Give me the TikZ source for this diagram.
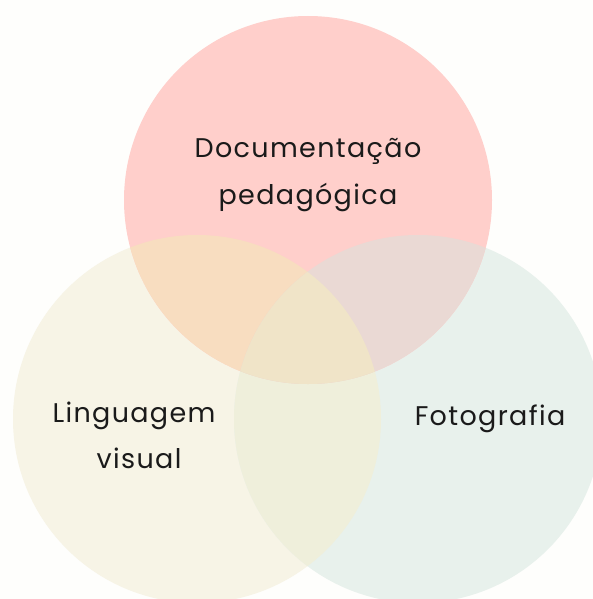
\documentclass[tikz,border=0pt]{standalone}
\usepackage{fontspec}
\setmainfont{Poppins}[LetterSpace=5]
\definecolor{bgc}{HTML}{FEFEFC}
\definecolor{redc}{HTML}{FFCFCB}
\definecolor{yelc}{HTML}{F7F4E6}
\definecolor{grnc}{HTML}{E8F1EC}
\definecolor{ryc}{HTML}{F8DDC0}
\definecolor{rgc}{HTML}{EAD9D4}
\definecolor{ygc}{HTML}{EFEFDB}
\definecolor{ryg}{HTML}{F0E4C8}
\definecolor{txtc}{HTML}{1A1A1A}
\begin{document}
\begin{tikzpicture}[x=1pt,y=-1pt,
  lbl/.style={anchor=base,text=txtc,font=\fontsize{27}{32}\selectfont,inner sep=0pt}]
\fill[bgc] (0,0) rectangle (593,599);
\useasboundingbox (0,0) rectangle (593,599);
\def\R{184}
\coordinate (cr) at (308,200);
\coordinate (cy) at (197,419);
\coordinate (cg) at (418,419);
\begin{scope}
\clip (0,0) rectangle (593,599);
\fill[yelc] (cy) circle (\R);
\fill[grnc] (cg) circle (\R);
\fill[redc] (cr) circle (\R);
\begin{scope}
\clip (cy) circle (\R);
\fill[ygc] (cg) circle (\R);
\end{scope}
\begin{scope}
\clip (cr) circle (\R);
\fill[ryc] (cy) circle (\R);
\fill[rgc] (cg) circle (\R);
\clip (cy) circle (\R);
\fill[ryg] (cg) circle (\R);
\end{scope}
\end{scope}
\node[lbl] (d1) at (308,157) {Documentação};
\node[lbl] (d2) at (308,204) {pedagógica};
\node[lbl] (l1) at (134,422) {Linguagem};
\node[lbl] (l2) at (139,468) {visual};
\node[lbl] (f1) at (490,425) {Fotografia};
\end{tikzpicture}
\end{document}
